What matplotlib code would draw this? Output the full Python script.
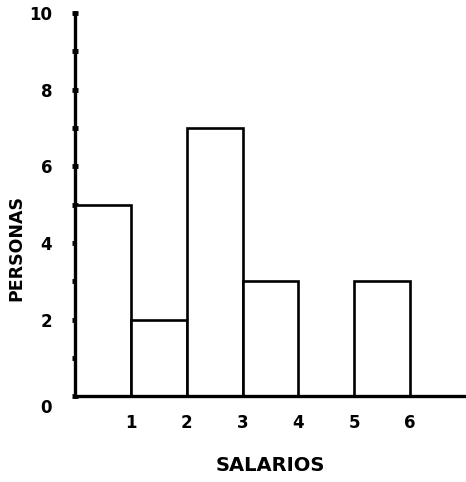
import numpy as np
import matplotlib
matplotlib.use("Agg")
import matplotlib.pyplot as plt
import matplotlib.transforms as mtransforms

# Datos: clases de salario y número de personas
clases = [0.5, 1.5, 2.5, 3.5, 4.5, 5.5]
personas = [5, 2, 7, 3, 0, 3]
etiquetas_x = ["1", "2", "3", "4", "5", "6"]
posiciones_x = [1, 2, 3, 4, 5, 6]

fig = plt.figure(figsize=(4.66, 4.82), dpi=100)
ax = fig.add_axes([0.161, 0.178, 0.839, 0.795])

ax.bar(clases, personas, width=1.0, facecolor="white", edgecolor="black",
       linewidth=1.9, zorder=2)

ax.set_xlim(0, 7)
ax.set_ylim(0, 10)

for lado in ["top", "right"]:
    ax.spines[lado].set_visible(False)
for lado in ["left", "bottom"]:
    ax.spines[lado].set_linewidth(2.4)
    ax.spines[lado].set_zorder(3)

# eje y: puntos en cada entero, etiquetas en los pares
ax.set_yticks(np.arange(0, 11, 2))
ax.set_yticks(np.arange(1, 11, 2), minor=True)
ax.set_yticklabels([str(v) for v in range(0, 11, 2)], fontsize=12, fontweight="bold")
ax.tick_params(axis="y", which="both", direction="inout", length=5, width=3.5, pad=14)

ax.set_xticks(posiciones_x)
ax.set_xticklabels(etiquetas_x, fontsize=12, fontweight="bold")
ax.tick_params(axis="x", length=0, pad=13)

# el "0" del origen queda un poco más abajo
lbl0 = ax.get_yticklabels()[0]
lbl0.set_transform(lbl0.get_transform() + mtransforms.ScaledTranslation(0, -0.1, fig.dpi_scale_trans))

ax.set_xlabel("SALARIOS", fontsize=14, fontweight="bold", labelpad=17)
ax.set_ylabel("PERSONAS", fontsize=12.5, fontweight="bold")
ax.yaxis.set_label_coords(-0.128, 0.386)

fig.savefig("out.png", dpi=100)
